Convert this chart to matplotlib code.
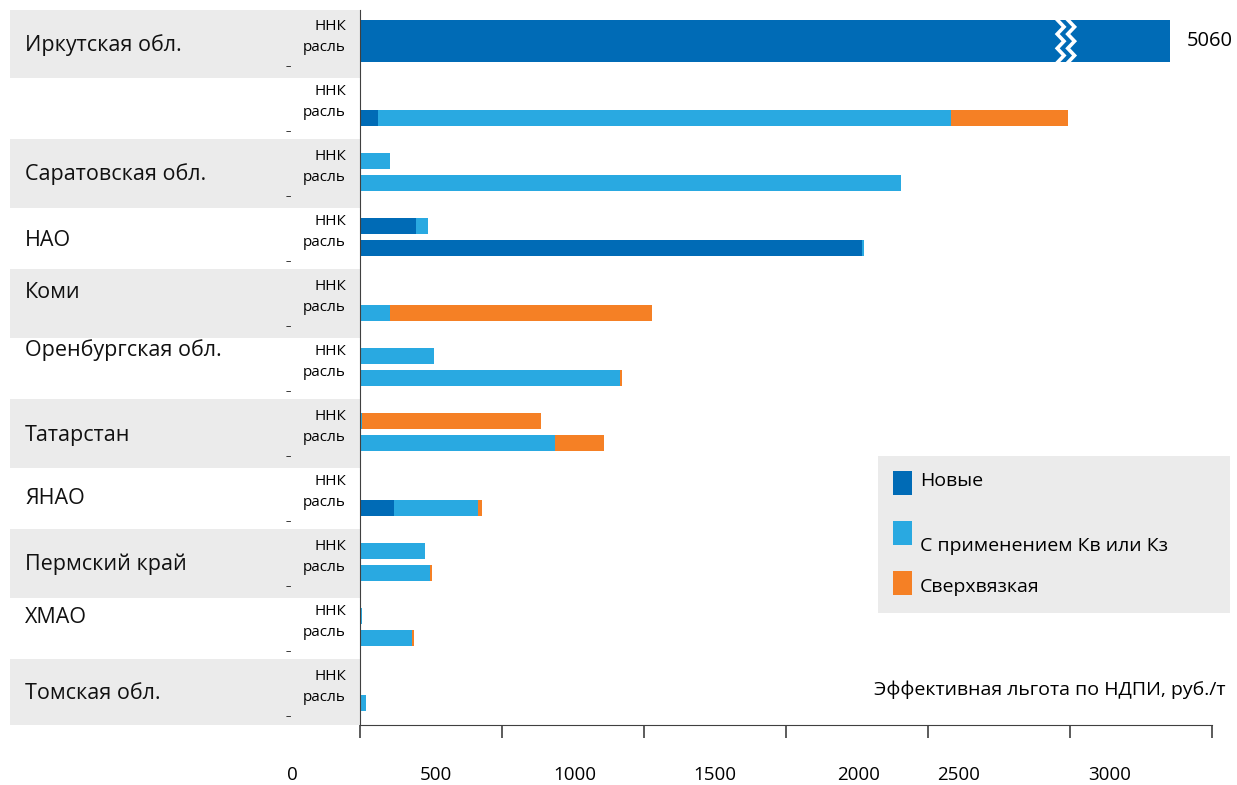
import matplotlib
matplotlib.use("Agg")
import matplotlib.pyplot as plt
from matplotlib.patches import Rectangle
import matplotlib.transforms as mtransforms

plt.rcParams['font.family'] = ['Open Sans', 'DejaVu Sans']

# ---- data ----
regions = ["Иркутская обл.", "", "Саратовская обл.", "НАО", "Коми",
           "Оренбургская обл.", "Татарстан", "ЯНАО", "Пермский край", "ХМАО", "Томская обл."]
series = ["Новые", "С применением Кв или Кз", "Сверхвязкая"]
# ННК (top bar) values per series (rows 2..11)
nnk_new   = [0, 0, 197, 0, 0, 0, 0, 0, 0, 0]
nnk_kv    = [0, 106, 42, 0, 261, 7, 0, 229, 7, 3]
nnk_heavy = [0, 0, 0, 4, 0, 630, 0, 0, 0, 0]
# отрасль (bottom bar) values
ind_new   = [63, 0, 1768, 0, 0, 0, 120, 0, 0, 0]
ind_kv    = [2018, 1905, 7, 106, 915, 687, 296, 246, 183, 21]
ind_heavy = [412, 0, 0, 923, 7, 173, 14, 7, 7, 0]
irkutsk_value = 5060
irkutsk_display = 2852
tick_values = [0, 500, 1000, 1500, 2000, 2500, 3000]
tick_labels = ["0", "500", "1000", "1500", "2000", "2500", "3000"]
xlabel = "Эффективная льгота по НДПИ, руб./т"

colors = ["#006bb6", "#29a9e1", "#f58025"]
gray = "#ebebeb"

W, H = 1237, 785
fig = plt.figure(figsize=(W / 100, H / 100), dpi=100)
ax = fig.add_axes([360 / W, (H - 725) / H, (1212 - 360) / W, (725 - 10) / H])
ax.set_xlim(0, 3000)
ax.set_ylim(len(regions), 0)

# gray background bands outside axes
bt = mtransforms.blended_transform_factory(fig.transFigure, ax.transData)
n = len(regions)
for i in range(n):
    if i % 2 == 0:
        y0 = i - 0.015 if i > 0 else i
        y1 = min(i + 1.05, n)
        ax.add_patch(Rectangle((10 / W, y0), (360 - 10) / W, y1 - y0, transform=bt,
                               facecolor=gray, edgecolor="none", clip_on=False, zorder=0))

# bars
hgt = 0.25
for k in range(len(nnk_new)):
    row = k + 1
    yt, yb = row + 0.32, row + 0.665
    left = 0
    for v, c in zip([nnk_new[k], nnk_kv[k], nnk_heavy[k]], colors):
        if v > 0:
            ax.barh(yt, v, left=left, height=hgt, color=c, zorder=2)
        left += v
    left = 0
    for v, c in zip([ind_new[k], ind_kv[k], ind_heavy[k]], colors):
        if v > 0:
            ax.barh(yb, v, left=left, height=hgt, color=c, zorder=2)
        left += v

# Irkutsk truncated bar
ax.barh(0.48, irkutsk_display, height=0.65, color=colors[0], zorder=2)
for x0 in [2455, 2492]:
    xs, ys = [], []
    nz = 6
    for j in range(nz + 1):
        ys.append(0.15 + 0.66 * j / nz)
        xs.append(x0 + (24 if j % 2 else 0))
    ax.plot(xs, ys, color="white", lw=2.6, zorder=3, solid_joinstyle="miter")
ax.text(irkutsk_display + 60, 0.48, str(irkutsk_value), va="center", ha="left", fontsize=14.5)

# region labels
label_pos = [0.54, 0.5, 0.52, 0.54, 0.35, 0.23, 0.54, 0.52, 0.52, 0.35, 0.51]
for i, (r, p) in enumerate(zip(regions, label_pos)):
    ax.text(25 / W, i + p, r, transform=bt, ha="left", va="center", fontsize=15.5, color="#111111")
    ax.text(346 / W, i + 0.26, "ННК", transform=bt, ha="right", va="center", fontsize=11)
    ax.text(346 / W, i + 0.58, "расль", transform=bt, ha="right", va="center", fontsize=11)
    ax.text(288 / W, i + 0.88, "‒", transform=bt, ha="center", va="center", fontsize=6)

# axes styling
for s in ["top", "right"]:
    ax.spines[s].set_visible(False)
ax.spines["left"].set_color("#404040")
ax.spines["bottom"].set_color("#404040")
ax.set_yticks([])
ax.set_xticks(tick_values)
ax.set_xticklabels([])
ax.tick_params(axis="x", direction="out", length=9, width=1.2, color="#404040")

# displaced tick labels (as in the reference)
lbl_x = [-239, 268, 757, 1250, 1754, 2106, 2641]
xt = mtransforms.blended_transform_factory(ax.transData, fig.transFigure)
for x, t in zip(lbl_x, tick_labels):
    ax.text(x, (H - 775) / H, t, transform=xt, ha="center", va="center", fontsize=13.5, clip_on=False)

fig.text(1225 / W, (H - 690) / H, xlabel, ha="right", va="center", fontsize=14)

# legend box
fig.patches.append(Rectangle((878 / W, (H - 613) / H), (1230 - 878) / W, (613 - 456) / H,
                             transform=fig.transFigure, facecolor=gray, edgecolor="none", zorder=1))
leg_y = [471, 521, 571]
txt_y = [481, 546, 587]
for c, s, y0, ty in zip(colors, series, leg_y, txt_y):
    fig.patches.append(Rectangle((893 / W, (H - y0 - 24) / H), 19 / W, 24 / H,
                                 transform=fig.transFigure, facecolor=c, edgecolor="none", zorder=2))
    fig.text(920 / W, (H - ty) / H, s, ha="left", va="center", fontsize=14, zorder=3)

fig.savefig("out.png", dpi=100)
